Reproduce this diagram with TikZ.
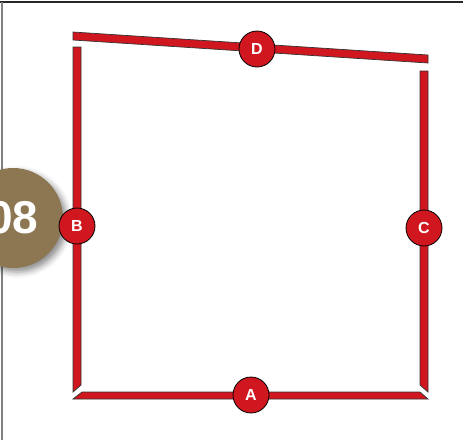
\documentclass[tikz,border=0pt]{standalone}
\usepackage{fontspec}
\setmainfont{Liberation Sans}
\setsansfont{Liberation Sans}
\usetikzlibrary{shadows.blur}
\definecolor{barred}{HTML}{D0161E}
\definecolor{badge}{HTML}{8C7752}

\begin{document}
\begin{tikzpicture}[x=1pt, y=-1pt, font=\sffamily\bfseries,
          bar/.style={fill=barred, draw=black!80, line width=0.7pt},
          tag/.style={circle, fill=barred, draw=black, line width=0.8pt, minimum size=36pt,
            inner sep=0pt, text=white, font=\sffamily\bfseries\fontsize{16}{16}\selectfont}]
        % Page units: 1pt per pixel of the 463 x 440 sheet, y grows downwards.
        \useasboundingbox (0,0) rectangle (463,440);
        \clip (0,0) rectangle (463,440);
        \draw[black!85, line width=1.5pt] (0,2) -- (463,2);
        \draw[gray, line width=1.5pt] (2,2) -- (2,440);
        % step number badge, cut by the left edge
        \node[circle, fill=badge, minimum size=100pt, inner sep=0pt, text=white,
          font=\sffamily\bfseries\fontsize{46}{46}\selectfont,
          blur shadow={shadow xshift=4pt, shadow yshift=-4pt, shadow blur radius=6pt, shadow opacity=45}]
          (num) at (13,218) {08};
        % the four mitred sides of the frame
        \draw[bar] (73,32) -- (428,55) -- (428,63) -- (73,40) -- cycle;
        \draw[bar] (73,47) -- (81,47) -- (81,385) -- (73,392) -- cycle;
        \draw[bar] (420,71) -- (428,71) -- (428,392) -- (420,385) -- cycle;
        \draw[bar] (82,392) -- (420,392) -- (428,399) -- (73,399) -- cycle;
        \foreach \n/\x/\y in {A/251/395, B/77/226, C/424/228, D/257/49}
          \node[tag] (\n) at (\x,\y) {\n};
      \end{tikzpicture}
\end{document}
